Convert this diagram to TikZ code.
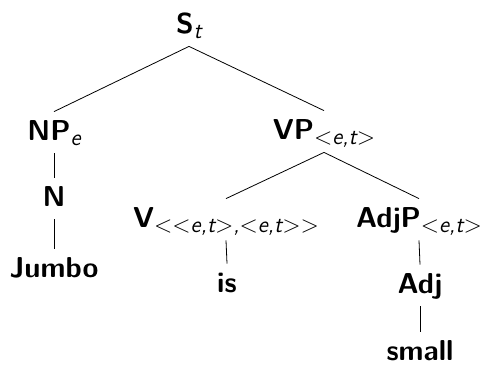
\documentclass[tikz,border=0pt]{standalone}
\usepackage{amsmath,amssymb}
\usepackage{tikz}
\newcommand{\tsub}[1]{\raisebox{-2.5pt}{\fontsize{11.5}{12}\selectfont\mdseries\slshape #1}}
\tikzset{
  lbl/.style={anchor=base, inner sep=4pt, text height=10pt, text depth=2.5pt,
    font=\fontsize{14.4}{17}\selectfont\sffamily\bfseries},
}

\begin{document}
\begin{tikzpicture}[x=0.5pt,y=-0.5pt]
\useasboundingbox (0,0) rectangle (481,365);
\begin{scope}[shift={(0,0)}]
\node[lbl] (S) at (189,33) {S\tsub{t}};
\node[lbl] (NP) at (54,140) {NP\tsub{e}};
\node[lbl] (VP) at (324,139) {VP\tsub{$<$e,t$>$}};
\draw (S.south) to (NP.north);
\draw (S.south) to (VP.north);
\node[lbl] (N) at (54,206) {N};
\node[lbl] (Jumbo) at (54,277) {Jumbo};
\draw (NP.south) to (N.north);
\draw (N.south) to (Jumbo.north);
\node[lbl] (V) at (226,227) {V\tsub{$<<$e,t$>$,$<$e,t$>>$}};
\node[lbl] (AdjP) at (419,227) {AdjP\tsub{$<$e,t$>$}};
\draw (VP.south) to (V.north);
\draw (VP.south) to (AdjP.north);
\node[lbl] (is) at (227,292) {is};
\draw (V.south) to (is.north);
\node[lbl] (Adj) at (420,293) {Adj};
\node[lbl] (small) at (420,360) {small};
\draw (AdjP.south) to (Adj.north);
\draw (Adj.south) to (small.north);
\end{scope}
\end{tikzpicture}
\end{document}
